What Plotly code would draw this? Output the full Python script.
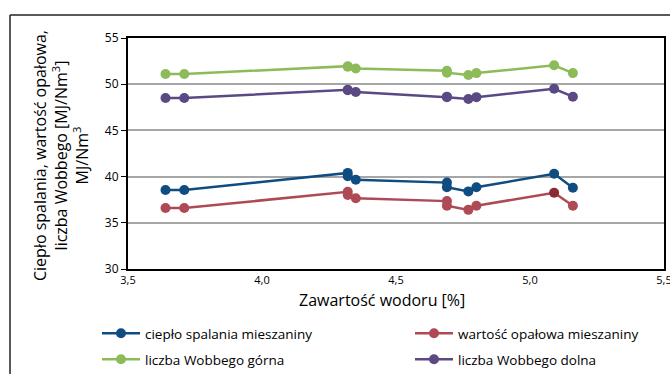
import plotly.graph_objects as go

# Hydrogen content of the mixture [%]
wodor = [3.64, 3.71, 4.32, 4.32, 4.35, 4.69, 4.69, 4.77, 4.80, 5.09, 5.16]

# Gas properties [MJ/Nm3]
cieplo_spalania = [38.55, 38.55, 40.4, 40.05, 39.65, 39.35, 38.85, 38.4, 38.85, 40.3, 38.8]
wartosc_opalowa = [36.6, 36.6, 38.35, 38.0, 37.65, 37.35, 36.85, 36.4, 36.85, 38.25, 36.85]
wobbe_gorna = [51.1, 51.1, 51.95, 51.9, 51.7, 51.45, 51.25, 51.0, 51.2, 52.05, 51.2]
wobbe_dolna = [48.5, 48.5, 49.4, 49.35, 49.15, 48.65, 48.6, 48.4, 48.6, 49.5, 48.65]

nazwy = ["ciepło spalania mieszaniny", "wartość opałowa mieszaniny",
         "liczba Wobbego górna", "liczba Wobbego dolna"]
kolory = ["#0f4c81", "#ad4a55", "#8dbb5a", "#5a4983"]
serie = [cieplo_spalania, wartosc_opalowa, wobbe_gorna, wobbe_dolna]

FONT = "Open Sans, DejaVu Sans, sans-serif"

W, H = 670, 374
L, R, T, B = 128, 6, 38, 105

# legend entry positions (pixels from top-left of the page)
legend_pos = [(97, 318), (410, 318), (97, 344), (410, 344)]
legend_ids = ["legend", "legend2", "legend3", "legend4"]

fig = go.Figure()
for nazwa, kolor, y, lg in zip(nazwy, kolory, serie, legend_ids):
    marker_colors = [kolor] * len(y)
    if nazwa.startswith("wartość"):
        marker_colors[9] = "#8b2a30"
    fig.add_trace(go.Scatter(
        x=wodor, y=y, name=nazwa, mode="lines+markers",
        line=dict(color=kolor, width=2.5),
        marker=dict(size=10, color=marker_colors, line=dict(width=0)),
        legend=lg,
    ))

legend_layout = {}
for lg, (lx, ly) in zip(legend_ids, legend_pos):
    legend_layout[lg] = dict(
        xref="container", yref="container",
        x=lx / W, y=1 - ly / H, xanchor="left", yanchor="top",
        itemwidth=38, font=dict(size=13.5, family=FONT, color="black"),
        bgcolor="rgba(0,0,0,0)",
    )

pw, ph = W - L - R, H - T - B


def px_x(px):
    return (px - L) / pw


def px_y(py):
    return (H - B - py) / ph


fig.update_layout(
    width=W, height=H,
    margin=dict(l=L, r=R, t=T, b=B, autoexpand=False),
    paper_bgcolor="white", plot_bgcolor="white",
    separators=", ",
    font=dict(family=FONT, color="#000000"),
    showlegend=True,
    xaxis=dict(
        range=[3.5, 5.5], dtick=0.5, tickformat=".1f",
        showgrid=False, zeroline=False,
        showline=True, linecolor="black", linewidth=2, mirror=True,
        ticks="", tickfont=dict(size=11, family=FONT),
        ticklabeloverflow="allow",
    ),
    yaxis=dict(
        range=[30, 55], dtick=5,
        showgrid=True, gridcolor="#a6a6a6", gridwidth=1.5, zeroline=False,
        showline=True, linecolor="black", linewidth=2, mirror=True,
        ticks="outside", ticklen=5, tickcolor="black",
        tickfont=dict(size=12, family=FONT),
    ),
    annotations=[
        dict(
            text="Ciepło spalania, wartość opałowa,<br>liczba Wobbego [MJ/Nm<sup>3</sup>]<br>MJ/Nm<sup>3</sup>",
            xref="paper", yref="paper", x=px_x(61), y=px_y(156),
            xanchor="center", yanchor="middle", textangle=-90, showarrow=False,
            font=dict(size=16, family=FONT, color="black"),
        ),
        dict(
            text="Zawartość wodoru [%]",
            xref="paper", yref="paper", x=px_x(382), y=px_y(300),
            xanchor="center", yanchor="middle", showarrow=False,
            font=dict(size=16, family=FONT, color="black"),
        ),
    ],
    shapes=[
        dict(type="line", xref="paper", yref="paper",
             x0=px_x(10), x1=px_x(W + 5), y0=px_y(15), y1=px_y(15),
             line=dict(color="#222222", width=1.5)),
        dict(type="line", xref="paper", yref="paper",
             x0=px_x(10), x1=px_x(10), y0=px_y(15), y1=px_y(H + 5),
             line=dict(color="#222222", width=1.5)),
    ],
    **legend_layout,
)

fig.write_html("out.html")
